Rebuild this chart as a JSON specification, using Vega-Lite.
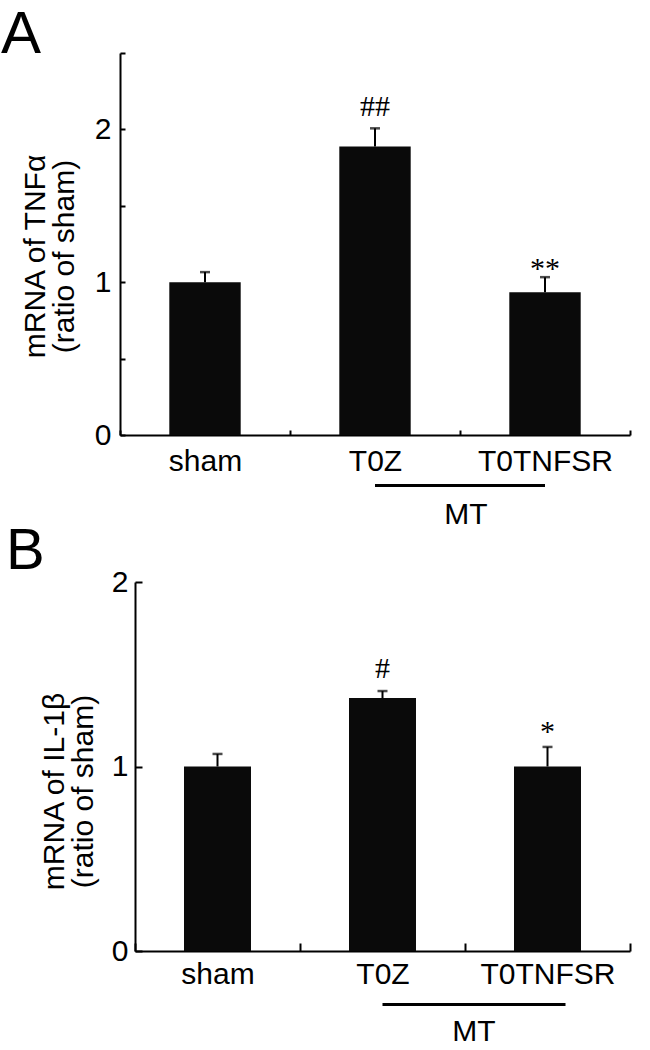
{
  "$schema": "https://vega.github.io/schema/vega-lite/v6.json",
  "padding": {"left": 1, "top": 5, "right": 5, "bottom": 5},
  "background": "white",
  "spacing": 147,
  "bounds": "flush",
  "config": {
    "font": "Liberation Sans",
    "view": {"stroke": null},
    "axis": {
      "labelFont": "Liberation Sans",
      "titleFont": "Liberation Sans",
      "domainColor": "black",
      "tickColor": "black",
      "labelColor": "black",
      "titleColor": "black",
      "grid": false,
      "domainWidth": 2,
      "tickWidth": 2,
      "titleFontWeight": "normal",
      "labelFontSize": 30,
      "titleFontSize": 30
    },
    "title": {"font": "Liberation Sans", "fontWeight": "normal", "color": "black"}
  },
  "vconcat": [
    {
      "title": {"text": "A", "anchor": "start", "frame": "group", "fontSize": 60, "dx": -119, "offset": -61, "baseline": "alphabetic"},
      "width": 510,
      "height": 382,
      "data": {"values": [
        {"group": "sham", "mean": 1.0, "upper": 1.066, "sig": ""},
        {"group": "T0Z", "mean": 1.888, "upper": 2.007, "sig": "##"},
        {"group": "T0TNFSR", "mean": 0.934, "upper": 1.033, "sig": "**"}
      ]},
      "encoding": {
        "x": {"field": "group", "type": "nominal",
              "scale": {"domain": ["sham", "T0Z", "T0TNFSR"], "paddingInner": 0, "paddingOuter": 0},
              "axis": {"title": null, "labelAngle": 0, "tickBand": "extent", "tickSize": -5, "labelPadding": 16, "labelBaseline": "top"}}
      },
      "layer": [
        {
          "mark": {"type": "bar", "fill": "#0a0a0a", "width": {"band": 0.42}},
          "encoding": {
            "y": {"field": "mean", "type": "quantitative",
                  "scale": {"domain": [0, 2.5], "nice": false},
                  "axis": {"values": [0, 0.5, 1, 1.5, 2, 2.5],
                           "labelExpr": "datum.value % 1 === 0 && datum.value < 2.5 ? format(datum.value, 'd') : ''",
                           "tickSize": -5, "labelPadding": 14,
                           "title": ["mRNA of TNFα", "(ratio of sham)"],
                           "titlePadding": 15, "titleLineHeight": 29, "titleY": 203}}
          }
        },
        {
          "mark": {"type": "rule", "strokeWidth": 2, "color": "black"},
          "encoding": {"y": {"field": "mean", "type": "quantitative"}, "y2": {"field": "upper"}}
        },
        {
          "mark": {"type": "tick", "color": "black", "thickness": 2.5, "size": 10},
          "encoding": {"y": {"field": "upper", "type": "quantitative"}}
        },
        {
          "transform": [{"filter": "indexof(datum.sig, '#') >= 0"}],
          "mark": {"type": "text", "font": "Liberation Serif", "fontSize": 30, "baseline": "alphabetic", "dy": -12, "color": "black"},
          "encoding": {"y": {"field": "upper", "type": "quantitative"}, "text": {"field": "sig"}}
        },
        {
          "transform": [{"filter": "indexof(datum.sig, '*') >= 0"}],
          "mark": {"type": "text", "font": "Liberation Serif", "fontSize": 30, "baseline": "alphabetic", "dy": 1, "color": "black"},
          "encoding": {"y": {"field": "upper", "type": "quantitative"}, "text": {"field": "sig"}}
        },
        {
          "data": {"values": [{"label": "MT"}]},
          "mark": {"type": "rule", "strokeWidth": 3, "color": "black"},
          "encoding": {
            "x": {"datum": "T0Z"},
            "x2": {"datum": "T0TNFSR"},
            "y": {"datum": -0.33}
          }
        },
        {
          "data": {"values": [{"label": "MT"}]},
          "mark": {"type": "text", "fontSize": 30, "baseline": "alphabetic", "dx": 6, "color": "black"},
          "encoding": {
            "x": {"datum": "T0TNFSR", "bandPosition": 0},
            "y": {"datum": -0.58},
            "text": {"field": "label"}
          }
        }
      ]
    },
    {
      "title": {"text": "B", "anchor": "start", "frame": "group", "fontSize": 58, "dx": -114, "offset": -60, "baseline": "alphabetic"},
      "width": 510,
      "height": 369,
      "data": {"values": [
        {"group": "sham", "mean": 1.0, "upper": 1.068, "sig": ""},
        {"group": "T0Z", "mean": 1.371, "upper": 1.409, "sig": "#"},
        {"group": "T0TNFSR", "mean": 1.0, "upper": 1.106, "sig": "*"}
      ]},
      "encoding": {
        "x": {"field": "group", "type": "nominal",
              "scale": {"domain": ["sham", "T0Z", "T0TNFSR"], "paddingInner": 0, "paddingOuter": 0, "range": [15, 510]},
              "axis": {"title": null, "labelAngle": 0, "tickBand": "extent", "tickSize": -8, "labelPadding": 16, "labelBaseline": "top"}}
      },
      "layer": [
        {
          "mark": {"type": "bar", "fill": "#0a0a0a", "width": {"band": 0.406}},
          "encoding": {
            "y": {"field": "mean", "type": "quantitative",
                  "scale": {"domain": [0, 2], "nice": false},
                  "axis": {"values": [0, 1, 2],
                           "labelExpr": "format(datum.value, 'd')",
                           "labelOverlap": false,
                           "tickSize": -7, "labelPadding": 14, "offset": -15,
                           "title": ["mRNA of IL-1β", "(ratio of sham)"],
                           "titlePadding": 13, "titleLineHeight": 29, "titleY": 209}}
          }
        },
        {
          "mark": {"type": "rule", "strokeWidth": 2, "color": "black"},
          "encoding": {"y": {"field": "mean", "type": "quantitative"}, "y2": {"field": "upper"}}
        },
        {
          "mark": {"type": "tick", "color": "black", "thickness": 2.5, "size": 10},
          "encoding": {"y": {"field": "upper", "type": "quantitative"}}
        },
        {
          "transform": [{"filter": "indexof(datum.sig, '#') >= 0"}],
          "mark": {"type": "text", "font": "Liberation Serif", "fontSize": 30, "baseline": "alphabetic", "dy": -13, "color": "black"},
          "encoding": {"y": {"field": "upper", "type": "quantitative"}, "text": {"field": "sig"}}
        },
        {
          "transform": [{"filter": "indexof(datum.sig, '*') >= 0"}],
          "mark": {"type": "text", "font": "Liberation Serif", "fontSize": 30, "baseline": "alphabetic", "dy": -6, "color": "black"},
          "encoding": {"y": {"field": "upper", "type": "quantitative"}, "text": {"field": "sig"}}
        },
        {
          "data": {"values": [{"label": "MT"}]},
          "mark": {"type": "rule", "strokeWidth": 3, "color": "black", "x2Offset": 18},
          "encoding": {
            "x": {"datum": "T0Z"},
            "x2": {"datum": "T0TNFSR"},
            "y": {"datum": -0.29}
          }
        },
        {
          "data": {"values": [{"label": "MT"}]},
          "mark": {"type": "text", "fontSize": 30, "baseline": "alphabetic", "dx": 9, "color": "black"},
          "encoding": {
            "x": {"datum": "T0TNFSR", "bandPosition": 0},
            "y": {"datum": -0.49},
            "text": {"field": "label"}
          }
        }
      ]
    }
  ]
}
